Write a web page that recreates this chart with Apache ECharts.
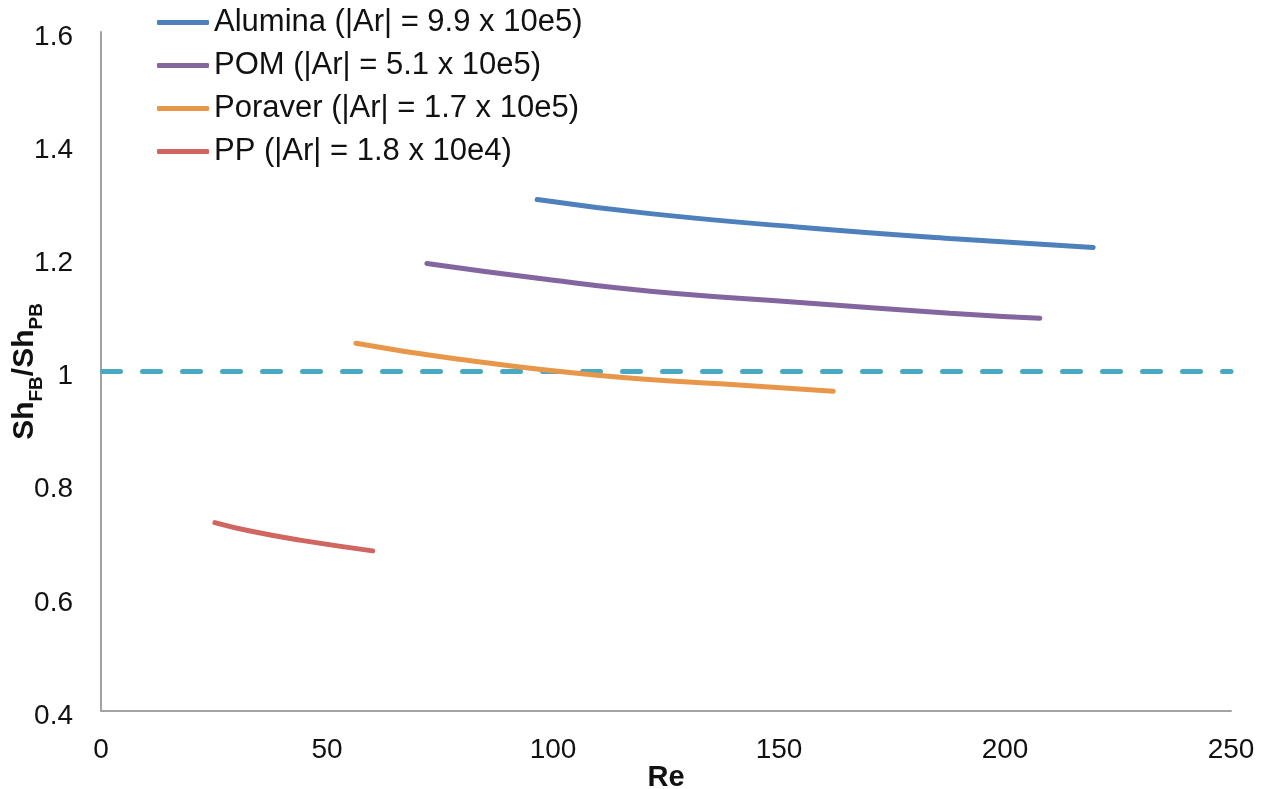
<!DOCTYPE html>
<html>
<head>
<meta charset="utf-8">
<script src="https://cdn.jsdelivr.net/npm/echarts@6/dist/echarts.min.js"></script>
<style>
html,body{margin:0;padding:0;background:#fff;}
#chart{width:1269px;height:789px;}
</style>
</head>
<body>
<div id="chart"></div>
<script>
// Series names
var seriesNames = [
  'Alumina (|Ar| = 9.9 x 10e5)',
  'POM (|Ar| = 5.1 x 10e5)',
  'Poraver (|Ar| = 1.7 x 10e5)',
  'PP (|Ar| = 1.8 x 10e4)'
];
// [Re, Sh_FB/Sh_PB]
var aluminaData = [[96.5,1.304],[121.5,1.279],[154.6,1.255],[187.8,1.235],[219.5,1.219]];
var pomData = [[72.1,1.191],[99.3,1.162],[121.5,1.142],[154.6,1.122],[187.8,1.103],[207.7,1.094]];
var poraverData = [[56.4,1.050],[77.2,1.024],[110.4,0.993],[143.6,0.975],[162.0,0.965]];
var ppData = [[25.2,0.733],[33.0,0.718],[44.0,0.702],[60.1,0.683]];
var referenceLine = [[0,1],[250,1]];
// Axis ticks
var xTicks = [0,50,100,150,200,250];
var yTicks = [0.4,0.6,0.8,1.0,1.2,1.4,1.6];

var colors = ['#4e81bb','#8366a0','#e8974a','#cf665f'];
var font = '"Liberation Sans", Arial, sans-serif';

var chart = echarts.init(document.getElementById('chart'));
function lineSeries(name, data, color){
  return {
    name: name, type: 'line', data: data, smooth: true, showSymbol: false, symbol: 'none',
    lineStyle: {color: color, width: 5, cap: 'round'}, itemStyle: {color: color},
    silent: true, animation: false, z: 3
  };
}
chart.setOption({
  animation: false,
  textStyle: {fontFamily: font},
  grid: {left: 101, right: 38, top: 32, bottom: 78, containLabel: false, outerBoundsMode: 'none'},
  legend: {
    data: seriesNames, orient: 'vertical', left: 157, top: 7, padding: 0,
    itemWidth: 52, itemHeight: 5, itemGap: 12, icon: 'roundRect',
    textStyle: {fontFamily: font, fontSize: 31, color: '#111', lineHeight: 31, padding:[0,0,0,0]}
  },
  xAxis: {
    type: 'value', min: xTicks[0], max: xTicks[xTicks.length-1], interval: 50,
    axisLine: {show: true, lineStyle: {color: '#a3a3a3', width: 2}},
    axisTick: {show: false}, splitLine: {show: false},
    axisLabel: {fontSize: 28, color: '#111', margin: 25, fontFamily: font},
    name: 'Re', nameLocation: 'middle', nameGap: 52, nameMoveOverlap: false,
    nameTextStyle: {fontSize: 29, fontWeight: 'bold', color: '#111', fontFamily: font}
  },
  yAxis: {
    type: 'value', min: yTicks[0], max: yTicks[yTicks.length-1], interval: 0.2,
    axisLine: {show: true, lineStyle: {color: '#a3a3a3', width: 2}},
    axisTick: {show: false}, splitLine: {show: false},
    axisLabel: {
      margin: 28, formatter: '{v|{value}}',
      rich: {v: {fontSize: 28, color: '#111', fontFamily: font, lineHeight: 38, verticalAlign: 'bottom'}}
    },
    name: '{b|Sh}{s|FB}{b|/Sh}{s|PB}', nameLocation: 'middle', nameGap: 61, nameRotate: 90, nameMoveOverlap: false,
    nameTextStyle: {
      fontFamily: font,
      rich: {
        b: {fontSize: 30, fontWeight: 'bold', color: '#111', fontFamily: font, lineHeight: 36, verticalAlign: 'bottom'},
        s: {fontSize: 19, fontWeight: 'bold', color: '#111', fontFamily: font, lineHeight: 36, verticalAlign: 'bottom', padding: [0,0,-6,0]}
      }
    }
  },
  series: [
    lineSeries(seriesNames[0], aluminaData, colors[0]),
    lineSeries(seriesNames[1], pomData, colors[1]),
    lineSeries(seriesNames[2], poraverData, colors[2]),
    lineSeries(seriesNames[3], ppData, colors[3]),
    {
      name: 'ref', type: 'line', data: referenceLine, showSymbol: false, symbol: 'none', silent: true, z: 2,
      lineStyle: {color: '#4aa9c2', width: 5, type: [18,22], cap: 'round', dashOffset: -1.5}
    }
  ]
});
</script>
</body>
</html>
